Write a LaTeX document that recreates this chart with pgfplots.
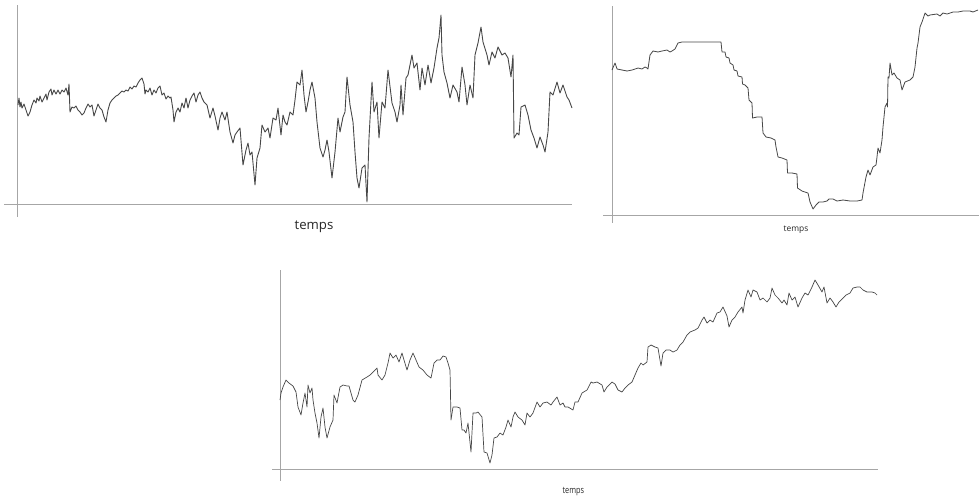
\documentclass[border=0pt]{standalone}
\usepackage{fontspec}
\setmainfont{Open Sans}
\usepackage{pgfplots}
\pgfplotsset{compat=1.18}

% one pixel of the reference = 0.5pt; data are read in pixel coordinates
\pgfplotsset{
  walk/.style={
    scale only axis,
    axis lines=none,
    y dir=reverse,
    clip=false,
    anchor=north west,
  },
}
\tikzset{
  axline/.style={color=black!35, line width=0.5pt},
  curve/.style={no marks, draw=black!72, line width=0.45pt, line join=round},
}

\begin{document}
\begin{tikzpicture}
\path[use as bounding box] (0pt,0pt) rectangle (489.5pt,-249.5pt);

% ---- top left
\begin{axis}[walk, xmin=4, xmax=572, ymin=5, ymax=217,
  width=284pt, height=106pt, at={(2pt,-2.5pt)}]
\draw[axline] (axis cs:4,204) -- (axis cs:572,204);
\draw[axline] (axis cs:18,5) -- (axis cs:18,217);
\addplot[curve] table {
18 105
19 98
20 107
21 102
22 108
24 104
26 110
28 116
30 112
32 105
34 100
36 103
37 98
39 101
40 96
42 102
44 98
46 94
47 100
49 92
51 89
52 95
54 90
56 94
58 90
60 94
62 90
64 92
66 88
68 95
69 84
70 112
72 107
74 108
76 106
78 110
80 112
82 115
84 113
86 108
88 104
90 107
92 105
94 116
96 110
98 104
100 108
102 110
104 117
106 122
108 110
110 103
112 100
114 98
116 96
118 95
120 93
122 91
124 92
126 90
128 91
130 87
132 89
134 86
136 87
138 83
140 80
142 78
144 84
145 94
146 90
148 92
150 88
152 95
154 90
156 93
158 88
160 86
162 95
164 93
166 99
168 96
170 98
171 97
173 110
174 122
176 112
178 108
180 112
182 103
184 108
186 98
188 108
190 100
192 96
194 93
196 102
198 95
200 92
202 98
204 102
207 105
210 118
213 108
215 116
218 130
220 118
222 112
225 120
227 112
230 132
233 143
235 135
237 132
240 128
243 165
246 150
248 143
250 155
252 152
255 185
257 158
260 148
262 125
265 132
268 128
270 138
273 118
276 120
278 108
281 135
283 115
285 122
287 125
290 112
293 115
295 100
297 82
300 85
302 70
304 95
306 112
308 102
310 90
312 82
315 98
317 122
320 148
323 157
325 150
327 140
329 152
332 178
335 152
338 118
340 132
343 117
345 112
347 77
350 105
353 122
355 152
357 178
359 188
362 168
365 165
367 202
369 138
372 82
374 112
377 102
379 138
382 102
385 108
388 70
392 103
395 112
397 122
400 105
401 85
403 115
406 78
408 75
412 55
414 68
417 63
418 72
420 90
422 68
425 85
428 65
431 83
434 68
437 48
439 38
441 15
442 55
444 72
447 83
450 98
453 85
457 92
459 102
462 67
465 85
467 105
470 85
473 98
475 55
478 43
481 27
483 42
487 55
489 65
492 52
495 58
498 47
502 55
505 53
508 58
511 77
513 55
514 138
517 133
519 135
521 107
525 105
528 115
531 130
534 138
537 148
540 137
543 145
545 152
548 132
550 92
553 95
557 82
560 93
563 85
567 97
569 100
572 108
};
\end{axis}
\node[anchor=base, text=black!85, font=\fontsize{6.6pt}{7pt}\selectfont] at (157pt,-114.7pt) {temps};

% ---- top right
\begin{axis}[walk, xmin=603, xmax=979, ymin=6, ymax=223,
  width=188pt, height=108.5pt, at={(301.5pt,-3pt)}]
\draw[axline] (axis cs:603,215) -- (axis cs:979,215);
\draw[axline] (axis cs:612,6) -- (axis cs:612,223);
\addplot[curve, line width=0.4pt] table {
612 70
615 63
617 69
622 70
627 71
632 70
638 68
642 69
645 67
647 68
648 69
650 55
653 51
658 52
662 51
667 50
670 52
672 51
675 49
678 43
682 42
700 42
721 42
722 52
725 52
726 57
729 58
730 63
733 65
734 70
737 71
738 76
742 77
742.5 84
745 85
748 88
749 100
752 103
752.5 118
757 117
762 117
763 133
766 137
771 138
775 140
776 147
777 152
778 157
782 158
787 160
787.5 173
792 173
797 174
797.5 188
802 191
808 193
810 202
813 209
816 205
819 202
823 202
827 201
829 199
833 199
837 201
843 200
850 201
857 201
862 200
863 193
866 177
868 170
870 175
873 167
876 165
877 157
878 148
880 153
882 140
883 127
885 107
887 103
887.5 107
888 77
889 78
890 63
892 75
894 73
897 78
900 80
902 90
905 82
910 80
913 77
915 67
917 48
918 43
920 27
922 22
925 13
928 16
930 15
937 14
940 16
943 13
947 14
953 12
958 12
963 11
970 11
973 12
978 10
};
\end{axis}
\node[anchor=base, text=black!85, font=\fontsize{4.2pt}{5pt}\selectfont] at (398pt,-115.8pt) {temps};

% ---- bottom
\begin{axis}[walk, xmin=272, xmax=878, ymin=270, ymax=481,
  width=303pt, height=105.5pt, at={(136pt,-135pt)}]
\draw[axline] (axis cs:272,469) -- (axis cs:878,469);
\draw[axline] (axis cs:280,270) -- (axis cs:280,481);
\addplot[curve, line width=0.35pt] table {
280 400
281 393
283 387
286 380
289 383
293 386
296 392
298 407
301 415
303 403
305 393
307 407
308 385
310 393
312 388
313 400
315 413
317 423
319 438
321 417
323 408
325 427
327 438
330 427
333 420
334 395
337 403
340 387
343 385
347 386
349 386
353 400
355 402
358 395
362 380
367 377
370 375
373 372
377 368
378 375
382 380
385 375
388 363
390 353
393 358
396 355
399 362
402 353
404 360
407 370
410 360
413 353
416 360
419 367
423 370
427 375
431 378
434 363
437 360
440 360
443 356
446 357
448 363
450 370
451 420
453 407
457 407
460 408
462 430
464 430
466 433
468 423
471 452
473 413
476 413
478 412
482 417
484 452
487 453
490 463
492 455
494 438
497 437
500 433
503 435
506 427
508 420
511 427
513 417
515 412
518 417
522 420
525 425
527 413
530 417
533 413
537 402
540 407
543 403
547 402
551 405
553 402
557 397
560 405
563 403
565 407
568 407
573 410
575 402
578 402
582 393
587 390
591 382
593 383
597 382
602 385
604 392
607 387
612 382
615 384
618 390
622 392
625 388
628 385
632 382
635 375
638 368
641 363
643 365
647 362
648 347
651 345
655 347
658 348
661 366
663 353
666 350
670 350
673 352
677 350
680 345
683 342
687 335
690 332
695 330
698 328
702 320
704 317
707 323
710 320
713 322
717 313
720 312
723 307
727 316
729 327
732 320
735 317
738 312
742 307
743 313
745 300
748 290
751 297
753 290
757 292
760 300
763 298
767 302
770 298
772 288
775 295
778 298
782 303
784 300
787 305
789 293
792 300
795 297
798 307
802 298
805 293
808 295
812 287
815 280
818 285
822 292
824 287
827 303
830 298
833 302
836 307
839 302
843 298
846 295
850 293
853 288
857 287
860 287
863 290
867 292
872 292
875 293
877 295
};
\end{axis}
\node[anchor=base, text=black!85, xscale=0.78, font=\fontsize{4.7pt}{5pt}\selectfont] at (286.7pt,-246.5pt) {temps};
\end{tikzpicture}
\end{document}
